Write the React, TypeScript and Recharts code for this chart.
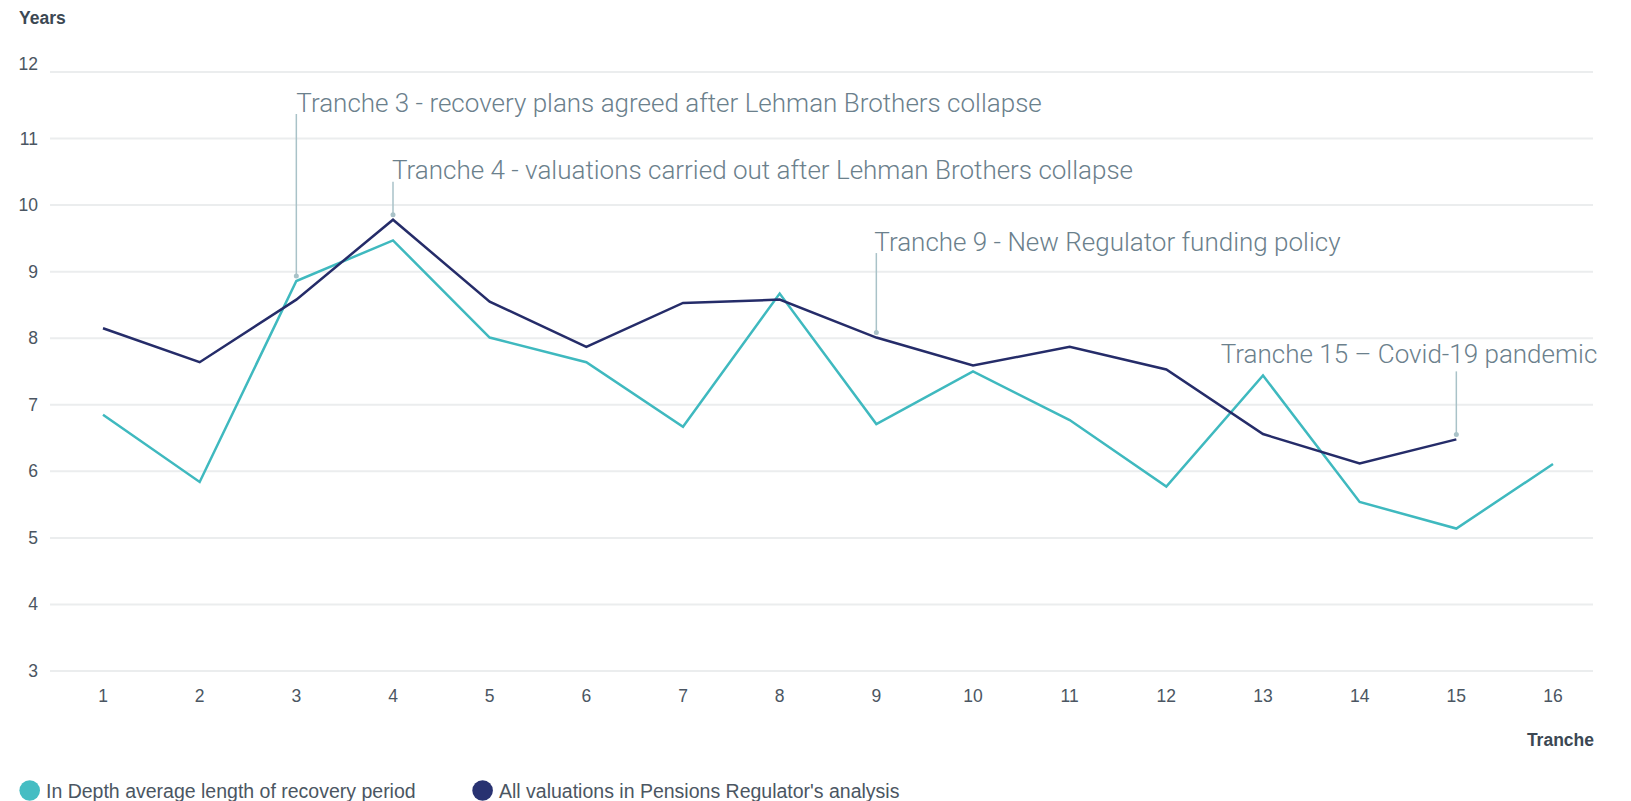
import React from 'react';
import { LineChart, Line, XAxis, YAxis, CartesianGrid, ReferenceDot } from 'recharts';

// Tranche numbers along the x axis
const tranches = [1, 2, 3, 4, 5, 6, 7, 8, 9, 10, 11, 12, 13, 14, 15, 16];

// Average recovery plan length (years)
const inDepth = [6.85, 5.84, 8.86, 9.47, 8.01, 7.64, 6.67, 8.67, 6.71, 7.5, 6.77, 5.77, 7.44, 5.54, 5.14, 6.11];
const allValuations = [8.15, 7.64, 8.58, 9.78, 8.55, 7.87, 8.53, 8.58, 8.01, 7.59, 7.87, 7.53, 6.56, 6.12, 6.48, null];

const yTicks = [3, 4, 5, 6, 7, 8, 9, 10, 11, 12];

const seriesLabels = {
  inDepth: 'In Depth average length of recovery period',
  all: "All valuations in Pensions Regulator's analysis",
};

const annotations = [
  { tranche: 3, series: 'inDepth', text: 'Tranche 3 - recovery plans agreed after Lehman Brothers collapse' },
  { tranche: 4, series: 'all', text: 'Tranche 4 - valuations carried out after Lehman Brothers collapse' },
  { tranche: 9, series: 'all', text: 'Tranche 9 - New Regulator funding policy' },
  { tranche: 15, series: 'all', text: 'Tranche 15 \u2013 Covid-19 pandemic' },
];

// how far above its point each annotation label sits
const annotationLayout: Record<number, { lift: number; gap: number; dx: number; anchor: 'start' | 'end' }> = {
  3: { lift: 169, gap: 2, dx: 0, anchor: 'start' },
  4: { lift: 41, gap: 3, dx: -1, anchor: 'start' },
  9: { lift: 87, gap: 2.5, dx: -2, anchor: 'start' },
  15: { lift: 76, gap: 8, dx: 141, anchor: 'end' },
};

const CYAN = '#3fb9bf';
const NAVY = '#252c69';
const TICK_COLOR = '#4b5662';
const NOTE_COLOR = '#6b808c';
const CONNECTOR = '#a9c2c8';
const FONT = '"Liberation Sans", Arial, Helvetica, sans-serif';

const data = tranches.map((t, i) => ({
  tranche: String(t),
  inDepth: inDepth[i],
  all: allValuations[i],
}));

const YTick = ({ x, y, payload }: any) => (
  <text
    x={x}
    y={payload.value === 12 ? y - 8 : y}
    textAnchor="end"
    dominantBaseline="central"
    fill={TICK_COLOR}
    fontSize={17.5}
    fontFamily={FONT}
  >
    {payload.value}
  </text>
);

const XTick = ({ x, y, payload }: any) => (
  <text x={x} y={y + 25} textAnchor="middle" dominantBaseline="central" fill={TICK_COLOR} fontSize={17.5} fontFamily={FONT}>
    {payload.value}
  </text>
);

const makeNote = (text: string, tranche: number) => (props: any) => {
  const { cx, cy } = props;
  const l = annotationLayout[tranche];
  const base = cy - l.lift;
  return (
    <g>
      <line x1={cx} x2={cx} y1={base + l.gap} y2={cy - 5} stroke={CONNECTOR} strokeWidth={1.5} />
      <circle cx={cx} cy={cy - 5} r={2.5} fill={CONNECTOR} />
      <text
        x={cx + l.dx}
        y={base}
        textAnchor={l.anchor}
        fill={NOTE_COLOR}
        fontSize={26}
        fontWeight={300}
        fontFamily='Roboto, "Liberation Sans", Arial, sans-serif'
      >
        {text}
      </text>
    </g>
  );
};

export default function App() {
  return (
    <div style={{ position: 'fixed', left: 0, top: 0, width: 1631, height: 801, background: '#fff' }}>
      <LineChart width={1631} height={801} data={data} margin={{ top: 72, right: 38, bottom: 100, left: 0 }}>
        <CartesianGrid vertical={false} stroke="#ebedee" strokeWidth={2} />
        <XAxis
          dataKey="tranche"
          type="category"
          interval={0}
          padding={{ left: 53, right: 40 }}
          axisLine={false}
          tickLine={false}
          tickSize={0}
          tickMargin={0}
          height={30}
          tick={<XTick />}
        />
        <YAxis
          domain={[3, 12]}
          ticks={yTicks}
          width={50}
          axisLine={false}
          tickLine={false}
          tickSize={0}
          tickMargin={12}
          tick={<YTick />}
        />
        <Line
          dataKey="inDepth"
          name={seriesLabels.inDepth}
          type="linear"
          stroke={CYAN}
          strokeWidth={2.5}
          dot={false}
          isAnimationActive={false}
        />
        <Line
          dataKey="all"
          name={seriesLabels.all}
          type="linear"
          stroke={NAVY}
          strokeWidth={2.5}
          dot={false}
          isAnimationActive={false}
        />
        {annotations.map((a) => {
          const i = tranches.indexOf(a.tranche);
          const v = a.series === 'inDepth' ? inDepth[i] : allValuations[i];
          return (
            <ReferenceDot
              key={a.tranche}
              x={String(a.tranche)}
              y={v as number}
              ifOverflow="visible"
              shape={makeNote(a.text, a.tranche)}
            />
          );
        })}
      </LineChart>
      <svg width={1631} height={801} style={{ position: 'absolute', left: 0, top: 0, pointerEvents: 'none' }}>
        <text x={19} y={24} fontSize={17.5} fontWeight={700} fill="#3c4853" fontFamily={FONT}>
          Years
        </text>
        <text x={1594} y={745.5} textAnchor="end" fontSize={17.5} fontWeight={700} fill="#3c4853" fontFamily={FONT}>
          Tranche
        </text>
        <circle cx={29.7} cy={790.5} r={10.3} fill="#45bdc3" />
        <text x={46} y={791} dominantBaseline="central" fontSize={19.5} fill={TICK_COLOR} fontFamily={FONT}>
          {seriesLabels.inDepth}
        </text>
        <circle cx={482.6} cy={790.5} r={10.3} fill="#283271" />
        <text x={499} y={791} dominantBaseline="central" fontSize={19.5} fill={TICK_COLOR} fontFamily={FONT}>
          {seriesLabels.all}
        </text>
      </svg>
    </div>
  );
}
